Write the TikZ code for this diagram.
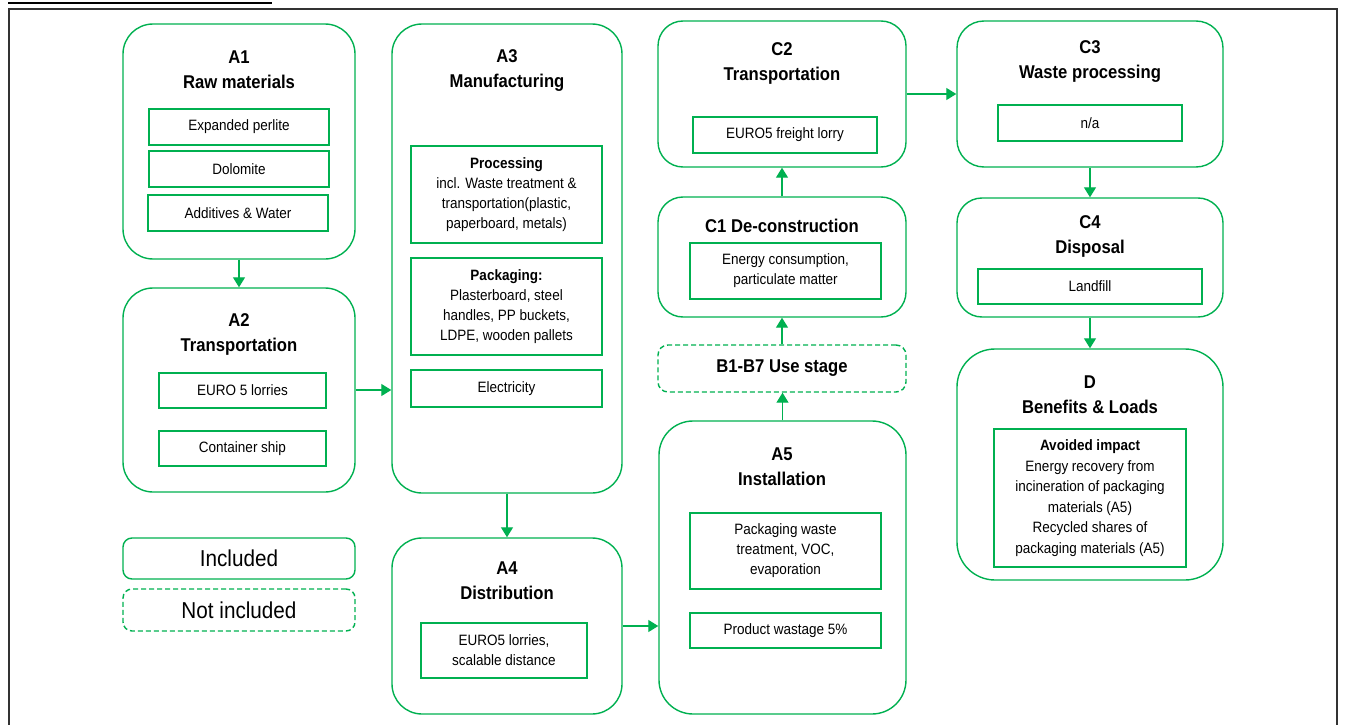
\documentclass[tikz,border=0pt]{standalone}
\usepackage{fontspec}
\setmainfont{Liberation Sans}[FakeStretch=0.9]
\usepackage{tikz}
\usetikzlibrary{arrows.meta, positioning}

\definecolor{lcagreen}{RGB}{0,176,80}
\newcommand{\bodyfont}{\fontsize{15}{20}\selectfont}
\newcommand{\headfont}{\fontsize{18.5}{25}\selectfont\bfseries}

\tikzset{
  stage/.style={draw=lcagreen, line width=1.4pt, rounded corners=#1, inner sep=0pt},
  stage/.default=30,
  notstage/.style={stage=#1, dashed, dash pattern=on 5pt off 3pt},
  notstage/.default=10,
  item/.style={draw=lcagreen, line width=1.4pt, inner sep=0pt, align=center, font=\bodyfont},
  head/.style={inner sep=0pt, align=center, font=\headfont},
  flow/.style={draw=lcagreen, line width=1.3pt, -{Triangle[length=10pt,width=12pt]}},
  legend/.style={inner sep=0pt, font=\fontsize{23}{27}\selectfont}
}

\begin{document}
\begin{tikzpicture}[x=1pt,y=1pt,yscale=-1,xscale=1]
\useasboundingbox (0,0) rectangle (1345,725);

%Frame
\draw[line width=2pt, black] (8,3) -- (272,3);
\draw[line width=2pt, black!80] (9,725) -- (9,9) -- (1337,9) -- (1337,725);

%Shape: A1 raw materials
\node[stage, minimum width=232, minimum height=235] (A1) at (239,141.5) {};
\node[head] (A1h) at (239,70) {A1\\Raw materials};
\node[item, minimum width=180, minimum height=36] (A1a) at (239,127) {Expanded perlite};
\node[item, minimum width=180, minimum height=36] (A1b) at (239,169) {Dolomite};
\node[item, minimum width=180, minimum height=36] (A1c) at (238,213) {Additives \& Water};

%Shape: A2 transportation
\node[stage, minimum width=232, minimum height=204] (A2) at (239,390) {};
\node[head] (A2h) at (239,334) {A2\\Transportation};
\node[item, minimum width=167, minimum height=35] (A2a) at (242.5,390.5) {EURO 5 lorries};
\node[item, minimum width=167, minimum height=35] (A2b) at (242.5,448.5) {Container ship};

%Shape: A3 manufacturing
\node[stage, minimum width=230, minimum height=469] (A3) at (507,258.5) {};
\node[head] (A3h) at (507,71) {A3\\Manufacturing};
\node[item, minimum width=191, minimum height=97] (A3a) at (506.5,194.5) {\textbf{Processing}\\incl. Waste treatment \&\\transportation(plastic,\\paperboard, metals)};
\node[item, minimum width=191, minimum height=97] (A3b) at (506.5,306.5) {\textbf{Packaging:}\\Plasterboard, steel\\handles, PP buckets,\\LDPE, wooden pallets};
\node[item, minimum width=191, minimum height=37] (A3c) at (506.5,388.5) {Electricity};

%Shape: A4 distribution
\node[stage, minimum width=230, minimum height=176] (A4) at (507,626) {};
\node[head] (A4h) at (507,581) {A4\\Distribution};
\node[item, minimum width=166, minimum height=55] (A4a) at (504,650.5) {EURO5 lorries,\\scalable distance};

%Shape: A5 installation
\node[stage=34, minimum width=247, minimum height=293] (A5) at (782.5,567.5) {};
\node[head] (A5h) at (782,467) {A5\\Installation};
\node[item, minimum width=191, minimum height=76] (A5a) at (785.5,551) {Packaging waste\\treatment, VOC,\\evaporation};
\node[item, minimum width=191, minimum height=35] (A5b) at (785.5,630.5) {Product wastage 5\%};

%Shape: B1-B7 use stage
\node[notstage, minimum width=248, minimum height=47, font=\headfont] (B) at (782,368.5) {B1-B7 Use stage};

%Shape: C1 de-construction
\node[stage=25, minimum width=248, minimum height=120] (C1) at (782,257) {};
\node[head] (C1h) at (782,226) {C1 De-construction};
\node[item, minimum width=191, minimum height=56] (C1a) at (785.5,271) {Energy consumption,\\particulate matter};

%Shape: C2 transportation
\node[stage=25, minimum width=248, minimum height=146] (C2) at (782,94) {};
\node[head] (C2h) at (782,63) {C2\\Transportation};
\node[item, minimum width=184, minimum height=36] (C2a) at (785,135) {EURO5 freight lorry};

%Shape: C3 waste processing
\node[stage=27, minimum width=266, minimum height=146] (C3) at (1090,94) {};
\node[head] (C3h) at (1090,62) {C3\\Waste processing};
\node[item, minimum width=184, minimum height=36] (C3a) at (1090,123) {n/a};

%Shape: C4 disposal
\node[stage=25, minimum width=266, minimum height=119] (C4) at (1090,257.5) {};
\node[head] (C4h) at (1090,236) {C4\\Disposal};
\node[item, minimum width=224, minimum height=35] (C4a) at (1090,286.5) {Landfill};

%Shape: D benefits and loads
\node[stage=38, minimum width=266, minimum height=231] (D) at (1090,464.5) {};
\node[head] (Dh) at (1090,395) {D\\Benefits \& Loads};
\node[item, minimum width=192, minimum height=138, font=\fontsize{15}{20.5}\selectfont] (Da) at (1090,498) {\textbf{Avoided impact}\\Energy recovery from\\incineration of packaging\\materials (A5)\\Recycled shares of\\packaging materials (A5)};

%Legend
\node[stage=9, minimum width=232, minimum height=41, legend] (inc) at (239,558.5) {Included};
\node[notstage=9, minimum width=232, minimum height=42, legend] (notinc) at (239,610) {Not included};

%Arrows
\draw[flow] (A1) -- (A2);
\draw[flow] (A2.east) -- (A2.east -| A3.west);
\draw[flow] (A3) -- (A4);
\draw[flow] (A4.east) -- (A4.east -| A5.west);
\draw[flow] (A5.north) -- (A5.north |- B.south);
\draw[flow] (B.north) -- (B.north |- C1.south);
\draw[flow] (C1.north) -- (C1.north |- C2.south);
\draw[flow] (C2.east) -- (C2.east -| C3.west);
\draw[flow] (C3) -- (C4);
\draw[flow] (C4) -- (D);

\end{tikzpicture}
\end{document}
